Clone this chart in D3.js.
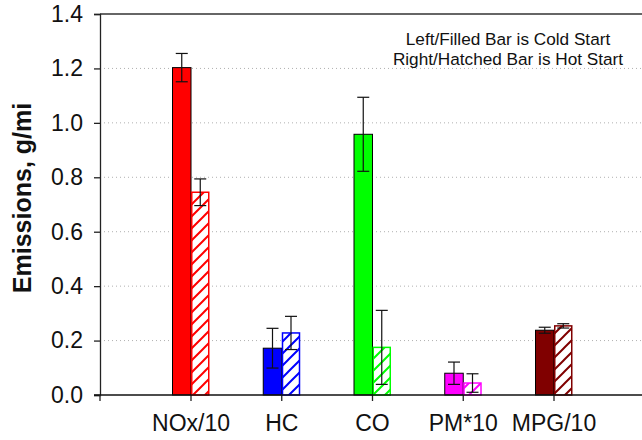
<!DOCTYPE html>
<html><head><meta charset="utf-8">
<script src="https://cdn.jsdelivr.net/npm/d3@7/dist/d3.min.js"></script>
<style>body{margin:0;background:#fff}svg{display:block}text{font-family:"Liberation Sans",Arial,sans-serif}</style>
</head><body>
<svg id="c" width="642" height="440"></svg>
<script>
const categories = ["NOx/10", "HC", "CO", "PM*10", "MPG/10"];
const coldValues = [1.203, 0.172, 0.958, 0.080, 0.238];
const hotValues = [0.745, 0.228, 0.175, 0.044, 0.254];
const coldErrors = [0.052, 0.073, 0.136, 0.041, 0.011];
const hotErrors = [0.049, 0.061, 0.136, 0.034, 0.008];
const colors = ["#ff0000", "#0000ff", "#00ff00", "#ff00ff", "#800000"];
const yTicks = [0, 0.2, 0.4, 0.6, 0.8, 1.0, 1.2, 1.4];
const legendLines = ["Left/Filled Bar is Cold Start", "Right/Hatched Bar is Hot Start"];
const yTitle = "Emissions, g/mi";

const svg = d3.select("#c");
const pLeft = 100, pRight = 642, pTop = 14, pBottom = 395;
const y = d3.scaleLinear().domain([0, 1.4]).range([pBottom, pTop]);
const step = 90.75;
const x = d3.scaleBand().domain(categories)
  .range([191 - step / 2, 191 - step / 2 + step * categories.length])
  .paddingInner(1 - 37 / step).paddingOuter((1 - 37 / step) / 2);
const xs = d3.scaleBand().domain(["cold", "hot"]).range([0, x.bandwidth()]);

const defs = svg.append("defs");
colors.forEach((c, i) => {
  const p = defs.append("pattern").attr("id", "h" + i).attr("patternUnits", "userSpaceOnUse")
    .attr("width", 12).attr("height", 12);
  p.append("rect").attr("width", 12).attr("height", 12).attr("fill", "#fff");
  p.append("path").attr("d", "M-3,15 L15,-3 M-3,3 L3,-3 M9,15 L15,9")
    .attr("stroke", c).attr("stroke-width", 2);
});

// grid
svg.append("g").selectAll("line").data(yTicks.filter(t => t > 0 && t < 1.4)).join("line")
  .attr("x1", pLeft).attr("x2", pRight).attr("y1", d => y(d)).attr("y2", d => y(d))
  .attr("stroke", "#b0b0b0").attr("stroke-width", 1).attr("stroke-dasharray", "1,3");

// top line
svg.append("line").attr("x1", pLeft).attr("x2", pRight).attr("y1", y(1.4)).attr("y2", y(1.4))
  .attr("stroke", "#333").attr("stroke-width", 1.3);

// y axis
const ya = svg.append("g").attr("transform", `translate(${pLeft},0)`)
  .call(d3.axisLeft(y).tickValues(yTicks).tickFormat(d3.format(".1f")).tickSize(6).tickPadding(11));
ya.select(".domain").attr("stroke", "#222").attr("stroke-width", 1.3);
ya.selectAll(".tick line").attr("stroke", "#222").attr("stroke-width", 1.3);
ya.selectAll("text").attr("font-size", 23).attr("fill", "#111").attr("font-family", '"Liberation Sans",Arial,sans-serif');

// bars
const g = svg.append("g");
categories.forEach((cat, i) => {
  g.append("rect").attr("x", x(cat) + xs("cold")).attr("width", xs.bandwidth())
    .attr("y", y(coldValues[i])).attr("height", y(0) - y(coldValues[i]))
    .attr("fill", colors[i]).attr("stroke", "#000").attr("stroke-width", 1);
  g.append("rect").attr("x", x(cat) + xs("hot") + 0.75).attr("width", xs.bandwidth() - 1.5)
    .attr("y", y(hotValues[i])).attr("height", y(0) - y(hotValues[i]))
    .attr("fill", `url(#h${i})`).attr("stroke", colors[i]).attr("stroke-width", 1.5);
});

// error bars
const eb = svg.append("g").attr("stroke", "#111").attr("stroke-width", 1.2);
function errBar(cx, v, e) {
  eb.append("line").attr("x1", cx).attr("x2", cx).attr("y1", y(v + e)).attr("y2", y(v - e));
  eb.append("line").attr("x1", cx - 6).attr("x2", cx + 6).attr("y1", y(v + e)).attr("y2", y(v + e));
  eb.append("line").attr("x1", cx - 6).attr("x2", cx + 6).attr("y1", y(v - e)).attr("y2", y(v - e));
}
categories.forEach((cat, i) => {
  errBar(x(cat) + xs("cold") + xs.bandwidth() / 2, coldValues[i], coldErrors[i]);
  errBar(x(cat) + xs("hot") + xs.bandwidth() / 2, hotValues[i], hotErrors[i]);
});

// x axis
const xa = svg.append("g").attr("transform", `translate(0,${pBottom})`)
  .call(d3.axisBottom(x).tickSize(6).tickPadding(14));
xa.select(".domain").remove();
svg.append("line").attr("x1", pLeft - 6).attr("x2", pRight).attr("y1", pBottom).attr("y2", pBottom)
  .attr("stroke", "#111").attr("stroke-width", 1.3);
svg.append("line").attr("x1", pLeft).attr("x2", pLeft).attr("y1", pBottom).attr("y2", pBottom + 6)
  .attr("stroke", "#222").attr("stroke-width", 1.3);
xa.selectAll(".tick line").attr("stroke", "#222").attr("stroke-width", 1.3);
xa.selectAll("text").attr("font-size", 23).attr("fill", "#111").attr("font-family", '"Liberation Sans",Arial,sans-serif');

// y title
svg.append("text").attr("transform", `translate(31,198) rotate(-90)`).attr("text-anchor", "middle")
  .attr("font-size", 25).attr("font-weight", "bold").attr("fill", "#111").text(yTitle);

// legend text
svg.append("g").selectAll("text").data(legendLines).join("text")
  .attr("x", 508).attr("y", (d, i) => 45 + i * 19.5).attr("text-anchor", "middle")
  .attr("font-size", 17.2).attr("fill", "#111").text(d => d);
</script>
</body></html>
